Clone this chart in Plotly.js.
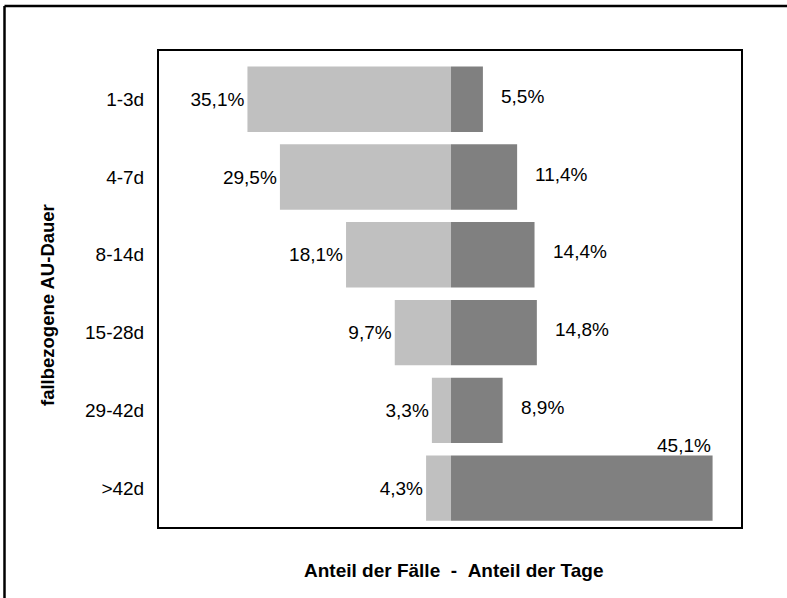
<!DOCTYPE html>
<html>
<head>
<meta charset="utf-8">
<script src="https://cdn.plot.ly/plotly-3.0.1.min.js"></script>
<style>
  html, body { margin: 0; padding: 0; background: #fff; }
  #chart { width: 787px; height: 598px; }
</style>
</head>
<body>
<div id="chart"></div>
<script>
// ---- data ----
const categories = ["1-3d", "4-7d", "8-14d", "15-28d", "29-42d", ">42d"];
const shareCases = [35.1, 29.5, 18.1, 9.7, 3.3, 4.3];   // Anteil der Fälle (%)
const shareDays  = [5.5, 11.4, 14.4, 14.8, 8.9, 45.1];   // Anteil der Tage (%)
const yTitle = "fallbezogene AU-Dauer";
const xTitle = "Anteil der Fälle\u00a0\u00a0-\u00a0\u00a0Anteil der Tage";

const fmt = v => v.toFixed(1).replace(".", ",") + "%";

const W = 787, H = 598;
const M = { l: 159, r: 46, t: 51, b: 71 };
const pw = W - M.l - M.r, ph = H - M.t - M.b;
const px2x = px => (px - M.l) / pw;
const px2y = py => (H - M.b - py) / ph;

const FONT = "Liberation Sans, Arial, Helvetica, sans-serif";
const FS = 19;

const traceCases = {
  type: "bar",
  orientation: "h",
  y: categories,
  x: shareCases.map(v => -v),
  width: 0.84,
  marker: { color: "#c0c0c0", line: { width: 0 } },
  text: shareCases.map(fmt),
  textposition: "outside",
  textfont: { family: FONT, size: FS, color: "#000" },
  cliponaxis: false,
  hoverinfo: "skip"
};
const traceDays = {
  type: "bar",
  orientation: "h",
  y: categories,
  x: shareDays,
  width: 0.84,
  marker: { color: "#808080", line: { width: 0 } },
  hoverinfo: "skip"
};

const annotations = [];
shareDays.forEach((v, i) => {
  if (v > 40) {
    annotations.push({
      x: v, y: categories[i], xref: "x", yref: "y",
      text: fmt(v), showarrow: false, xanchor: "right", yanchor: "bottom",
      yshift: 30, font: { family: FONT, size: FS, color: "#000" }
    });
  } else {
    annotations.push({
      x: v, y: categories[i], xref: "x", yref: "y",
      text: fmt(v), showarrow: false, xanchor: "left", yanchor: "middle",
      xshift: 16, yshift: 3, font: { family: FONT, size: FS, color: "#000" }
    });
  }
});
// axis titles
annotations.push({
  xref: "paper", yref: "paper", x: px2x(47), y: px2y(305),
  text: "<b>" + yTitle + "</b>", textangle: -90, showarrow: false,
  xanchor: "center", yanchor: "middle",
  font: { family: FONT, size: 18.5, color: "#000" }
});
annotations.push({
  xref: "paper", yref: "paper", x: px2x(453), y: px2y(570),
  text: "<b>" + xTitle + "</b>", showarrow: false,
  xanchor: "center", yanchor: "middle",
  font: { family: FONT, size: 19, color: "#000" }
});

const shapes = [
  // outer frame (top & left edges visible)
  { type: "line", xref: "paper", yref: "paper",
    x0: px2x(4.5), x1: px2x(800), y0: px2y(6), y1: px2y(6),
    line: { color: "#000", width: 2.5 } },
  { type: "line", xref: "paper", yref: "paper",
    x0: px2x(4.5), x1: px2x(4.5), y0: px2y(6), y1: px2y(620),
    line: { color: "#000", width: 2.5 } }
];

const layout = {
  width: W, height: H,
  margin: M,
  paper_bgcolor: "#fff",
  plot_bgcolor: "#fff",
  showlegend: false,
  barmode: "overlay",
  font: { family: FONT, size: FS, color: "#000" },
  xaxis: {
    range: [-50.35, 50.0],
    showticklabels: false, ticks: "", showgrid: false, zeroline: false,
    showline: true, linecolor: "#000", linewidth: 2, mirror: true,
    fixedrange: true
  },
  yaxis: {
    type: "category",
    range: [5.5, -0.62],
    showgrid: false, zeroline: false,
    ticks: "outside", ticklen: 9, tickcolor: "rgba(0,0,0,0)",
    tickfont: { family: FONT, size: FS, color: "#000" },
    showline: true, linecolor: "#000", linewidth: 2, mirror: true,
    fixedrange: true
  },
  annotations: annotations,
  shapes: shapes
};

Plotly.newPlot("chart", [traceCases, traceDays], layout, { staticPlot: true, displayModeBar: false });
</script>
</body>
</html>
